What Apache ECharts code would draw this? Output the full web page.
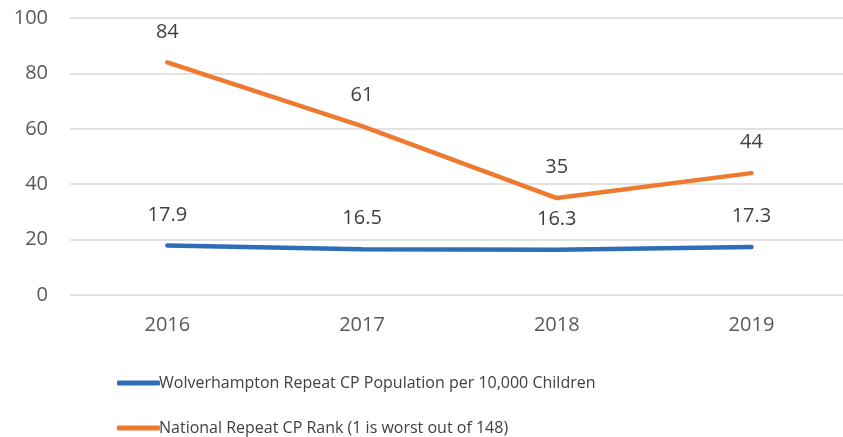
<!DOCTYPE html>
<html><head><meta charset="utf-8">
<script src="https://cdn.jsdelivr.net/npm/echarts@6/dist/echarts.min.js"></script>
<style>html,body{margin:0;padding:0;background:#fff}#c{width:843px;height:437px}</style>
</head><body><div id="c"></div>
<script>
const categories = ['2016', '2017', '2018', '2019'];
const wolverhampton = [17.9, 16.5, 16.3, 17.3];
const nationalRank = [84, 61, 35, 44];
const seriesNames = ['Wolverhampton Repeat CP Population per 10,000 Children', 'National Repeat CP Rank (1 is worst out of 148)'];

const font = 'Open Sans';
const gridLeft = 70, band = 194.7, chartW = 843;
const xMax = (chartW - gridLeft) / band - 0.5; // plot area is cut off at the right edge
const toPairs = arr => arr.map((v, i) => [i, v]);
const chart = echarts.init(document.getElementById('c'), null, {renderer: 'canvas'});
const lbl = {show: true, position: 'top', distance: 20, color: '#404040', fontFamily: font, fontSize: 20};
const legendBase = {
  orient: 'horizontal', left: 112, itemHeight: 5, icon: 'roundRect', itemWidth: 43,
  textStyle: {color: '#404040', fontFamily: font, fontSize: 16, padding: [0,0,0,-6]}
};
chart.setOption({
  animation: false,
  grid: {left: gridLeft, right: 0, top: 18, bottom: 142, containLabel: false},
  xAxis: {
    type: 'value', min: -0.5, max: xMax, interval: 0.5,
    axisLine: {show: false}, axisTick: {show: false}, splitLine: {show: false},
    axisLabel: {color: '#595959', fontFamily: font, fontSize: 20, margin: 20,
      showMinLabel: false, showMaxLabel: false,
      formatter: v => (Number.isInteger(v) && categories[v] !== undefined) ? categories[v] : ''}
  },
  yAxis: {
    type: 'value', min: 0, max: 100, interval: 20,
    axisLine: {show: false}, axisTick: {show: false},
    splitLine: {lineStyle: {color: '#d9d9d9', width: 1.5}},
    axisLabel: {color: '#595959', fontFamily: font, fontSize: 20, margin: 22}
  },
  legend: [
    Object.assign({}, legendBase, {top: 370, data: [seriesNames[0]]}),
    Object.assign({}, legendBase, {top: 415, data: [seriesNames[1]]})
  ],
  series: [
    {name: seriesNames[0], type: 'line', data: toPairs(wolverhampton), symbol: 'circle', symbolSize: 1,
     lineStyle: {color: '#2E6DB8', width: 4.5, cap: 'round'}, itemStyle: {color: '#2E6DB8'},
     label: Object.assign({}, lbl, {formatter: p => p.value[1]})},
    {name: seriesNames[1], type: 'line', data: toPairs(nationalRank), symbol: 'circle', symbolSize: 1,
     lineStyle: {color: '#EE7A2F', width: 4.5, cap: 'round'}, itemStyle: {color: '#EE7A2F'},
     label: Object.assign({}, lbl, {formatter: p => p.value[1]})}
  ]
});
</script></body></html>
